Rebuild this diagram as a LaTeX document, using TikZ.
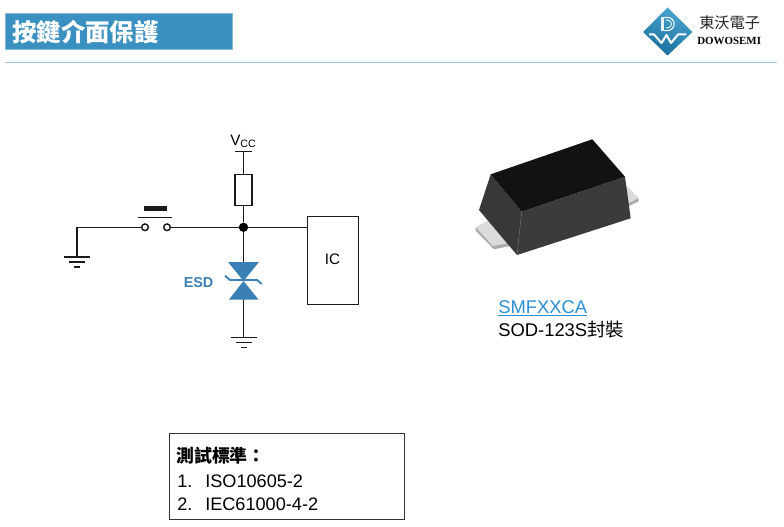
\documentclass[tikz,border=0pt]{standalone}
\usepackage{fontspec}
\setmainfont{Liberation Sans}
\newfontfamily\cjk{Noto Sans CJK TC}
\newfontfamily\serifl{Liberation Serif}
\usetikzlibrary{calc}
\definecolor{titlebg}{HTML}{3A90C0}
\definecolor{titleedge}{HTML}{86B8D8}
\definecolor{rulec}{HTML}{9DC3E6}
\definecolor{esdblue}{HTML}{3A80B4}
\definecolor{linkblue}{HTML}{2B8FD6}
\definecolor{wirec}{HTML}{1A1A1A}
\definecolor{logoA}{HTML}{4AA6CE}
\definecolor{logoB}{HTML}{1A6F9E}
\tikzset{
  wire/.style={draw=wirec,line width=1.1pt},
  partbox/.style={draw=wirec,line width=1.1pt,fill=white,inner sep=0pt,minimum width=12.75pt},
  lbl/.style={inner sep=0pt,anchor=base west,text=black},
  contact/.style={circle,draw=wirec,line width=1.1pt,fill=white,inner sep=0pt,minimum size=5pt},
}
\begin{document}
\begin{tikzpicture}[x=0.75pt,y=-0.75pt]
\useasboundingbox (0,0) rectangle (784,527);
\fill[white] (0,0) rectangle (784,527);
% header
\node[draw=titleedge,fill=titlebg,line width=0.6pt,minimum width=170.5pt,minimum height=27.5pt,inner sep=0pt] (title) at (119,31.5) {};
\node[lbl,text=white,font=\cjk\bfseries\fontsize{18.3}{20}\selectfont] (titletxt) at (12,41.5) {按鍵介面保護};
\coordinate (ruleL) at (5,62.5); \coordinate (ruleR) at (777,62.5);
\draw[rulec,line width=1.3pt] (ruleL) -- (ruleR);
% logo
\shade[top color=logoA,bottom color=logoB,shading angle=-20] (667.5,7.5) -- (692.5,32) -- (667.5,55.5) -- (643,32) -- cycle;
\fill[white!85!logoA] (661,17) rectangle (664,31);
\draw[white,line width=0.8pt] (664,17.3) -- (667,17.3) .. controls (676.5,17.3) and (676.5,30.6) .. (667,30.6) -- (664,30.6);
\draw[white,line width=0.6pt] (665.5,20) -- (667,20) .. controls (673,20) and (673,28) .. (667,28) -- (665.5,28);
\draw[white,line width=1.5pt,line join=round] (649,34.5) -- (654,34.5) -- (661.5,43) -- (666.5,35) -- (671,43) -- (678,34.5) -- (686,34.5);
\node[lbl,font=\cjk\fontsize{11.4}{13}\selectfont,text=black!85] (logocn) at (699,28.5) {東沃電子};
\node[lbl,font=\serifl\bfseries\fontsize{8.2}{9}\selectfont] (logoen) at (697,44.5) {DOWOSEMI};
% circuit
\coordinate (vccL) at (235,151.5); \coordinate (vccR) at (252,151.5); \coordinate (vccM) at (243.5,151.5);
\node[partbox,minimum height=23pt,anchor=north] (res) at (243.5,174) {};
\node[circle,fill=black,inner sep=0pt,minimum size=7pt] (junc) at (243.5,227.3) {};
\node[draw=wirec,line width=1.1pt,fill=white,minimum width=38pt,minimum height=66pt,inner sep=0pt,anchor=north west] (ic) at (307,216) {};
\node[font=\fontsize{11.4}{13}\selectfont,inner sep=0pt] (ictxt) at (332.5,259.5) {IC};
\node[contact] (swa) at (145,227.3) {};
\node[contact] (swb) at (167,227.3) {};
\coordinate (gl) at (77,227.3);
\coordinate (gnda) at (77,257);
\coordinate (tvstop) at (243.5,262);
\coordinate (tvsbot) at (243.5,299);
\coordinate (gndb) at (243.5,337.5);
\draw[wire] (vccL) -- (vccR);
\draw[wire] (vccM) -- (res.north);
\draw[wire] (res.south) -- (junc);
\draw[wire] (swb) -- (junc);
\draw[wire] (junc) -- (junc -| ic.west);
\draw[wire] (swa) -- (gl) -- (gnda);
\draw[wire] (junc) -- (tvstop);
\draw[wire] (tvsbot) -- (gndb);
% grounds
\draw[wire] ($(gnda)+(-13,0)$) -- ($(gnda)+(13,0)$);
\draw[wire] ($(gnda)+(-8,5)$) -- ($(gnda)+(8,5)$);
\draw[wire] ($(gnda)+(-3,10)$) -- ($(gnda)+(3,10)$);
\draw[wire] ($(gndb)+(-13,0)$) -- ($(gndb)+(13,0)$);
\draw[wire] ($(gndb)+(-8,5)$) -- ($(gndb)+(8,5)$);
\draw[wire] ($(gndb)+(-3,10)$) -- ($(gndb)+(3,10)$);
% switch actuator
\draw[wire] (137.5,217.5) -- (172,217.5);
\fill[wirec] (143.5,206) rectangle (167,211);
% TVS
\fill[esdblue] (228,262) -- (259,262) -- (243.5,281) -- cycle;
\fill[esdblue] (229,299.5) -- (258.5,299.5) -- (243.5,281) -- cycle;
\draw[esdblue,line width=1.4pt] (225,275.7) -- (230,280) -- (257,280) -- (261.7,284);
\node[lbl,text=esdblue,font=\bfseries\fontsize{10.8}{12}\selectfont] (esd) at (183.5,287) {ESD};
\node[lbl,font=\fontsize{11.4}{13}\selectfont] (vcc) at (230,146) {V\raisebox{-1.5pt}{\fontsize{8}{9}\selectfont CC}};
% package leads
\fill[gray!65] (625,185) -- (638.5,198) -- (638.5,201.5) -- (629,206) -- cycle;
\fill[gray!28] (625,184.5) -- (638.5,198) -- (629,203) -- cycle;
\fill[gray!65] (475.7,227) -- (475.7,230.7) -- (494,249.3) -- (510,246) -- (510,242) -- cycle;
\fill[gray!28] (475.7,227) -- (488,220.7) -- (510,242.7) -- (493,246) -- cycle;
% package body
\fill[black!78] (490.7,174.3) -- (521.7,211.7) -- (517,255) -- (479,210) -- cycle;
\fill[black!77] (521.7,211.7) -- (625,176.7) -- (630.7,218.3) -- (517,255) -- cycle;
\fill[black!93] (490.7,174.3) -- (592.3,139.3) -- (625,176.7) -- (521.7,211.7) -- cycle;
\draw[black!60,line width=0.3pt] (521.7,211.7) -- (517,255);
% part text
\node[lbl,text=linkblue,font=\fontsize{13.8}{16}\selectfont] (part) at (498,313) {\underline{SMFXXCA}};
\node[lbl,font=\fontsize{13.8}{16}\selectfont] (pkg) at (498,336.5) {SOD-123S{\cjk 封裝}};
% test box
\node[draw=black!80,line width=0.7pt,fill=white,minimum width=176.5pt,minimum height=64.5pt,inner sep=0pt,anchor=north west] (std) at (169,433) {};
\node[lbl,font=\cjk\bfseries\fontsize{13.4}{15}\selectfont] (stdt) at (176,462) {測試標準：};
\node[lbl,font=\fontsize{13.6}{15}\selectfont] (n1) at (177,487) {1.};
\node[lbl,font=\fontsize{13.6}{15}\selectfont] (s1) at (205,487) {ISO10605-2};
\node[lbl,font=\fontsize{13.6}{15}\selectfont] (n2) at (177,510) {2.};
\node[lbl,font=\fontsize{13.6}{15}\selectfont] (s2) at (205,510) {IEC61000-4-2};
\end{tikzpicture}
\end{document}
